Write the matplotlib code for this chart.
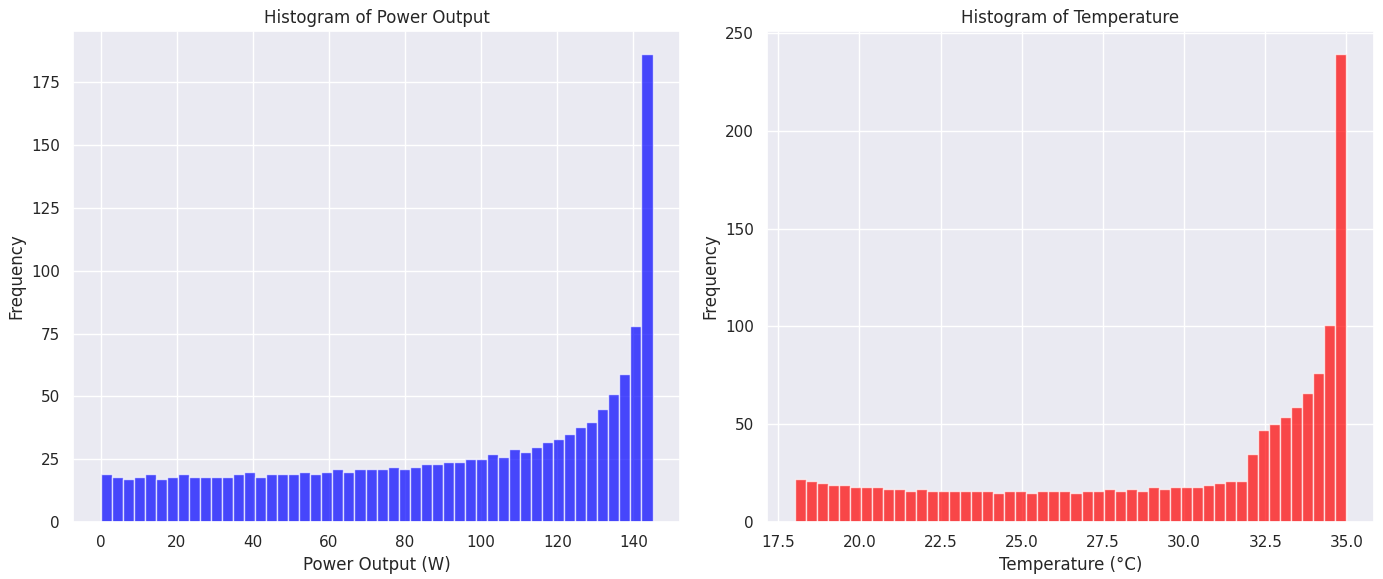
import numpy as np
import matplotlib
matplotlib.use("Agg")
import matplotlib.pyplot as plt
import seaborn as sns

# counts, 50 bins each
power_range = (0, 145)
power_counts = [19, 18, 17, 18, 19, 17, 18, 19, 18, 18,
                18, 18, 19, 20, 18, 19, 19, 19, 20, 19,
                20, 21, 20, 21, 21, 21, 22, 21, 22, 23,
                23, 24, 24, 25, 25, 27, 26, 29, 28, 30,
                32, 33, 35, 38, 40, 45, 51, 59, 78, 186]

temp_range = (18, 35)
temp_counts = [22, 21, 20, 19, 19, 18, 18, 18, 17, 17,
               16, 17, 16, 16, 16, 16, 16, 16, 15, 16,
               16, 15, 16, 16, 16, 15, 16, 16, 17, 16,
               17, 16, 18, 17, 18, 18, 18, 19, 20, 21,
               21, 35, 47, 50, 54, 59, 66, 76, 101, 239]

sns.set_theme()

fig, (ax1, ax2) = plt.subplots(1, 2, figsize=(13.83, 5.79), dpi=100)
fig.subplots_adjust(left=0.0528, right=0.9935, bottom=0.098, top=0.9465, wspace=0.143)

def draw_hist(ax, rng, counts, color, title, xlabel):
    edges = np.linspace(rng[0], rng[1], len(counts) + 1)
    centers = (edges[:-1] + edges[1:]) / 2
    ax.hist(centers, bins=edges, weights=counts, color=color, alpha=0.7)
    ax.set_title(title)
    ax.set_xlabel(xlabel)
    ax.set_ylabel("Frequency")

draw_hist(ax1, power_range, power_counts, "blue", "Histogram of Power Output", "Power Output (W)")
draw_hist(ax2, temp_range, temp_counts, "red", "Histogram of Temperature", "Temperature (°C)")

fig.savefig("out.png")
